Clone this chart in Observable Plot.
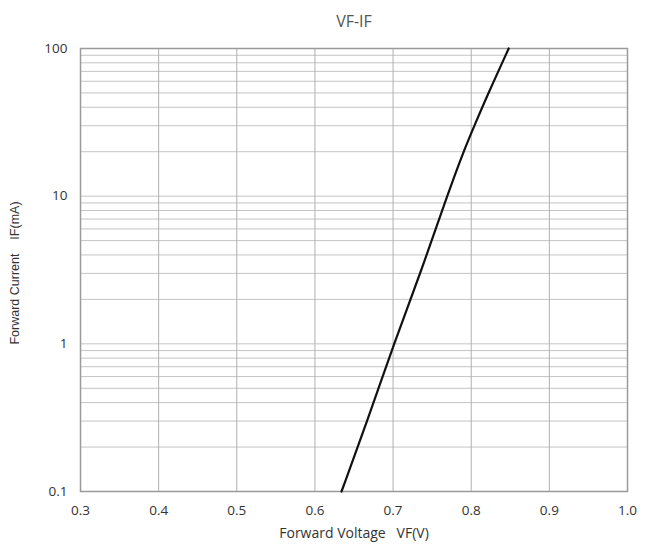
<!DOCTYPE html>
<html>
<head>
<meta charset="utf-8">
<script src="https://cdn.jsdelivr.net/npm/d3@7"></script>
<script src="https://cdn.jsdelivr.net/npm/@observablehq/plot@0.6"></script>
<style>
  body { margin: 0; background: #fff; }
  svg { display: block; }
</style>
</head>
<body>
<div id="chart"></div>
<script>
// Curve readings (VF in volts, IF in mA)
const vf = [0.634, 0.667, 0.701, 0.735, 0.769, 0.790, 0.804, 0.822, 0.848];
const ifmA = [0.1, 0.3, 1, 3, 10, 20, 30, 50, 100];

const xTicks = [0.3, 0.4, 0.5, 0.6, 0.7, 0.8, 0.9, 1.0];
const xTickLabels = ["0.3", "0.4", "0.5", "0.6", "0.7", "0.8", "0.9", "1.0"];
const yTicks = [0.1, 1, 10, 100];
const yTickLabels = ["0.1", "1", "10", "100"];
const yGrid = [0.1,0.2,0.3,0.4,0.5,0.6,0.7,0.8,0.9,1,2,3,4,5,6,7,8,9,10,20,30,40,50,60,70,80,90,100];

const data = vf.map((v, i) => ({v, i: ifmA[i]}));

const font = "'Open Sans', sans-serif";
const plot = Plot.plot({
  width: 650,
  height: 554,
  marginLeft: 80,
  marginRight: 23,
  marginTop: 48,
  marginBottom: 63,
  style: {fontFamily: font, fontSize: "13.5px", color: "#333", background: "#fff"},
  x: {domain: [0.3, 1.0], ticks: xTicks, tickFormat: d => xTickLabels[xTicks.findIndex(t => Math.abs(t - d) < 1e-9)], tickSize: 0, tickPadding: 14, label: null},
  y: {type: "log", domain: [0.1, 100], ticks: yTicks, tickFormat: d => yTickLabels[yTicks.findIndex(t => Math.abs(t - d) < 1e-9)], tickSize: 0, tickPadding: 13, label: null},
  marks: [
    Plot.ruleY(yGrid, {stroke: "#c4c4c4", strokeWidth: 1}),
    Plot.ruleX(xTicks, {stroke: "#b0b0b0", strokeWidth: 1}),
    Plot.frame({stroke: "#9a9a9a", strokeWidth: 1.5}),
    Plot.line(data, {x: "v", y: "i", stroke: "#111", strokeWidth: 2.2, curve: "basis"}),
    Plot.text(["VF-IF"], {frameAnchor: "top", dy: -33, fontSize: 16, fill: "#555", fontFamily: font}),
    Plot.text(["Forward Voltage   VF(V)"], {frameAnchor: "bottom", dy: 46, fontSize: 14, fill: "#333", fontFamily: font}),
    Plot.text(["Forward Current    IF(mA)"], {frameAnchor: "left", textAnchor: "middle", dx: -66, dy: 3, rotate: -90, fontSize: 12.5, fill: "#333", fontFamily: "'Liberation Sans', Arial, sans-serif"})
  ]
});
document.getElementById("chart").appendChild(plot);
</script>
</body>
</html>
